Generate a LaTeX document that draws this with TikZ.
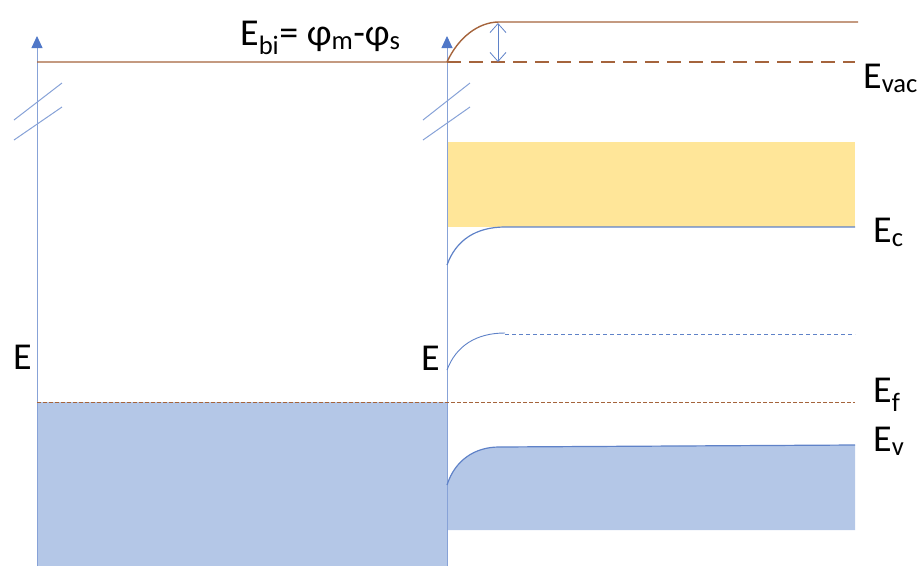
\documentclass[tikz,border=0pt]{standalone}
\usepackage{fontspec}
\setmainfont{Carlito}
\usetikzlibrary{arrows.meta}

\definecolor{bandbrown}{RGB}{165,100,60}
\definecolor{axisblue}{RGB}{135,162,215}
\definecolor{tipblue}{RGB}{80,120,200}
\definecolor{lineblue}{RGB}{95,130,200}
\definecolor{fillblue}{RGB}{180,199,231}
\definecolor{fillyellow}{RGB}{255,230,153}

\tikzset{
  axis/.style={axisblue, line width=0.9pt, -{Triangle[width=11pt,length=12pt,color=tipblue]}},
  breakmark/.style={axisblue, line width=1pt},
  vacline/.style={bandbrown, line width=1.4pt},
  bandline/.style={lineblue, line width=1.2pt},
  lbl/.style={font=\fontsize{38}{42}\selectfont, inner sep=0pt, anchor=base west},
}

\begin{document}
\begin{tikzpicture}[x=1pt, y=-1pt, >=Stealth]
  \useasboundingbox (0,0) rectangle (919,566);

  % Metal: filled states up to E_f
  \fill[fillblue] (37,402) rectangle (447,566);

  % Semiconductor: conduction and valence bands
  \fill[fillyellow] (447,142) rectangle (855,227);
  \fill[fillblue] (447,530) -- (447,485) .. controls (455,460) and (475,447) .. (499,447)
    -- (855,445) -- (855,530) -- cycle;

  % Axes
  \draw[axis] (37,566) -- (37,36);
  \draw[axis] (447,566) -- (447,36);

  % Axis breaks
  \draw[breakmark] (14,120) -- (62,83);
  \draw[breakmark] (14,140) -- (62,107);
  \draw[breakmark] (423,120) -- (470,83);
  \draw[breakmark] (423,140) -- (470,107);

  % Vacuum level
  \draw[vacline] (37,62) -- (447,62) .. controls (458,38) and (478,22) .. (499,22) -- (858,22);
  \draw[vacline, dash pattern=on 14pt off 8pt] (447,62) -- (855,62);

  % Built-in potential
  \draw[lineblue, line width=0.8pt, {Straight Barb[width=16pt,length=9pt]}-{Straight Barb[width=16pt,length=9pt]}]
    (498,23) -- (498,62);

  % Band bending
  \draw[bandline] (447,265) .. controls (456,240) and (476,227) .. (505,227) -- (855,227);
  \draw[bandline, line width=0.9pt] (447,370) .. controls (456,346) and (476,333) .. (505,333);
  \draw[bandline, line width=0.8pt, dash pattern=on 4pt off 3pt] (505,334) -- (855,334);
  \draw[bandline] (447,485) .. controls (455,460) and (475,447) .. (499,447) -- (855,445);

  % Fermi level
  \draw[bandbrown, line width=1pt, dash pattern=on 4pt off 2pt] (37,402) -- (855,402);

  % Labels
  \node[lbl] (ebi) at (240,45) {E\textsubscript{bi}= φ\textsubscript{m}-φ\textsubscript{s}};
  \node[lbl] (evac) at (863,88) {E\textsubscript{vac}};
  \node[lbl] (ec) at (873,242) {E\textsubscript{c}};
  \node[lbl] (ef) at (873,402) {E\textsubscript{f}};
  \node[lbl] (ev) at (873,451) {E\textsubscript{v}};
  \node[lbl] (eleft) at (13,369) {E};
  \node[lbl] (eright) at (421,370) {E};
\end{tikzpicture}
\end{document}
